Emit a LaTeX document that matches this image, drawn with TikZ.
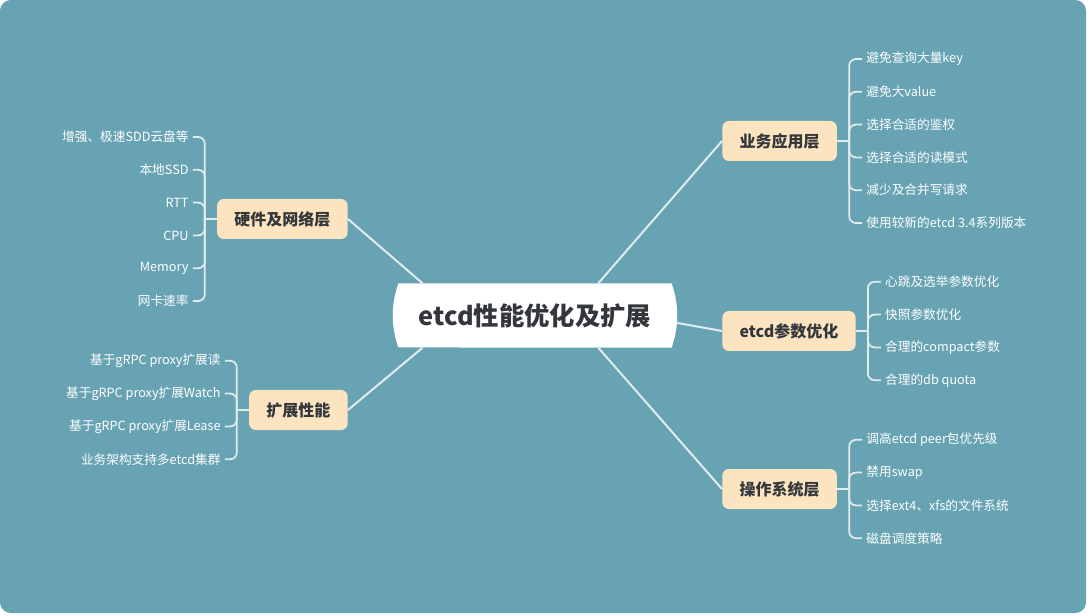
\documentclass[tikz,border=0pt]{standalone}
\usepackage{fontspec}
\setmainfont{Noto Sans CJK SC}
\usetikzlibrary{positioning,shapes.misc,calc}
\definecolor{bgteal}{HTML}{67A3B3}
\definecolor{branchfill}{HTML}{FCE4C0}
\definecolor{darktext}{HTML}{33373B}
\definecolor{linkline}{HTML}{E2ECEF}

\begin{document}
\begin{tikzpicture}[x=0.75pt,y=-0.75pt]
\tikzset{
    root/.style={rounded rectangle, rounded rectangle arc length=40, fill=white, text=darktext, font=\fontsize{19}{23}\selectfont\bfseries, minimum width=220pt, minimum height=48pt},
    branch/.style={rectangle, fill=branchfill, text=darktext, font=\fontsize{12}{14}\selectfont\bfseries, rounded corners=5pt, minimum height=30pt, inner xsep=13pt},
    leaf/.style={text=white, font=\fontsize{9.5}{11}\selectfont, inner xsep=3pt, inner ysep=1pt},
    link/.style={draw=linkline, line width=1.5pt},
    fork/.style={draw=linkline, line width=1.3pt, rounded corners=5pt}
}
\useasboundingbox (0,0) rectangle (1092,616);
\fill[white] (0,0) rectangle (1092,616);
\fill[bgteal, rounded corners=8pt] (0,0) rectangle (1086,613);

\node[root] (root) at (535,315.5) {etcd性能优化及扩展};
\node[branch, anchor=east] (hw) at (348,219) {硬件及网络层};
\node[branch, anchor=east] (scale) at (348,410) {扩展性能};
\node[branch, anchor=west] (biz) at (722,141) {业务应用层};
\node[branch, anchor=west] (etcdp) at (722,331) {etcd参数优化};
\node[branch, anchor=west] (os) at (722,489) {操作系统层};

\draw[link] (root.164) -- (hw.east);
\draw[link] (root.196) -- (scale.east);
\draw[link] (root.27) -- (biz.west);
\draw[link] (root.-3) -- (etcdp.west);
\draw[link] (root.-27) -- (os.west);

\coordinate (hwfork) at ($(hw.west)+(-12,0)$);
\foreach \t [count=\i] in {{增强、极速SDD云盘等},{本地SSD},{RTT},{CPU},{Memory},{网卡速率}}
    \node[leaf, anchor=east] (hw\i) at ($(hwfork)+(-12,{(\i-3.5)*32.8})$) {\t};
\draw[fork] (hw.west) -- (hwfork);
\foreach \i in {1,...,6} \draw[fork] (hwfork) |- (hw\i.east);

\coordinate (scalefork) at ($(scale.west)+(-12,0)$);
\foreach \t [count=\i] in {{基于gRPC proxy扩展读},{基于gRPC proxy扩展Watch},{基于gRPC proxy扩展Lease},{业务架构支持多etcd集群}}
    \node[leaf, anchor=east] (scale\i) at ($(scalefork)+(-12,{(\i-2.5)*32.8})$) {\t};
\draw[fork] (scale.west) -- (scalefork);
\foreach \i in {1,...,4} \draw[fork] (scalefork) |- (scale\i.east);

\coordinate (bizfork) at ($(biz.east)+(12,0)$);
\foreach \t [count=\i] in {{避免查询大量key},{避免大value},{选择合适的鉴权},{选择合适的读模式},{减少及合并写请求},{使用较新的etcd 3.4系列版本}}
    \node[leaf, anchor=west] (biz\i) at ($(bizfork)+(13,{(\i-3.5)*32.8})$) {\t};
\draw[fork] (biz.east) -- (bizfork);
\foreach \i in {1,...,6} \draw[fork] (bizfork) |- (biz\i.west);

\coordinate (etcdpfork) at ($(etcdp.east)+(12,0)$);
\foreach \t [count=\i] in {{心跳及选举参数优化},{快照参数优化},{合理的compact参数},{合理的db quota}}
    \node[leaf, anchor=west] (etcdp\i) at ($(etcdpfork)+(13,{(\i-2.5)*32.8})$) {\t};
\draw[fork] (etcdp.east) -- (etcdpfork);
\foreach \i in {1,...,4} \draw[fork] (etcdpfork) |- (etcdp\i.west);

\coordinate (osfork) at ($(os.east)+(12,0)$);
\foreach \t [count=\i] in {{调高etcd peer包优先级},{禁用swap},{选择ext4、xfs的文件系统},{磁盘调度策略}}
    \node[leaf, anchor=west] (os\i) at ($(osfork)+(13,{(\i-2.5)*32.8})$) {\t};
\draw[fork] (os.east) -- (osfork);
\foreach \i in {1,...,4} \draw[fork] (osfork) |- (os\i.west);
\end{tikzpicture}
\end{document}
